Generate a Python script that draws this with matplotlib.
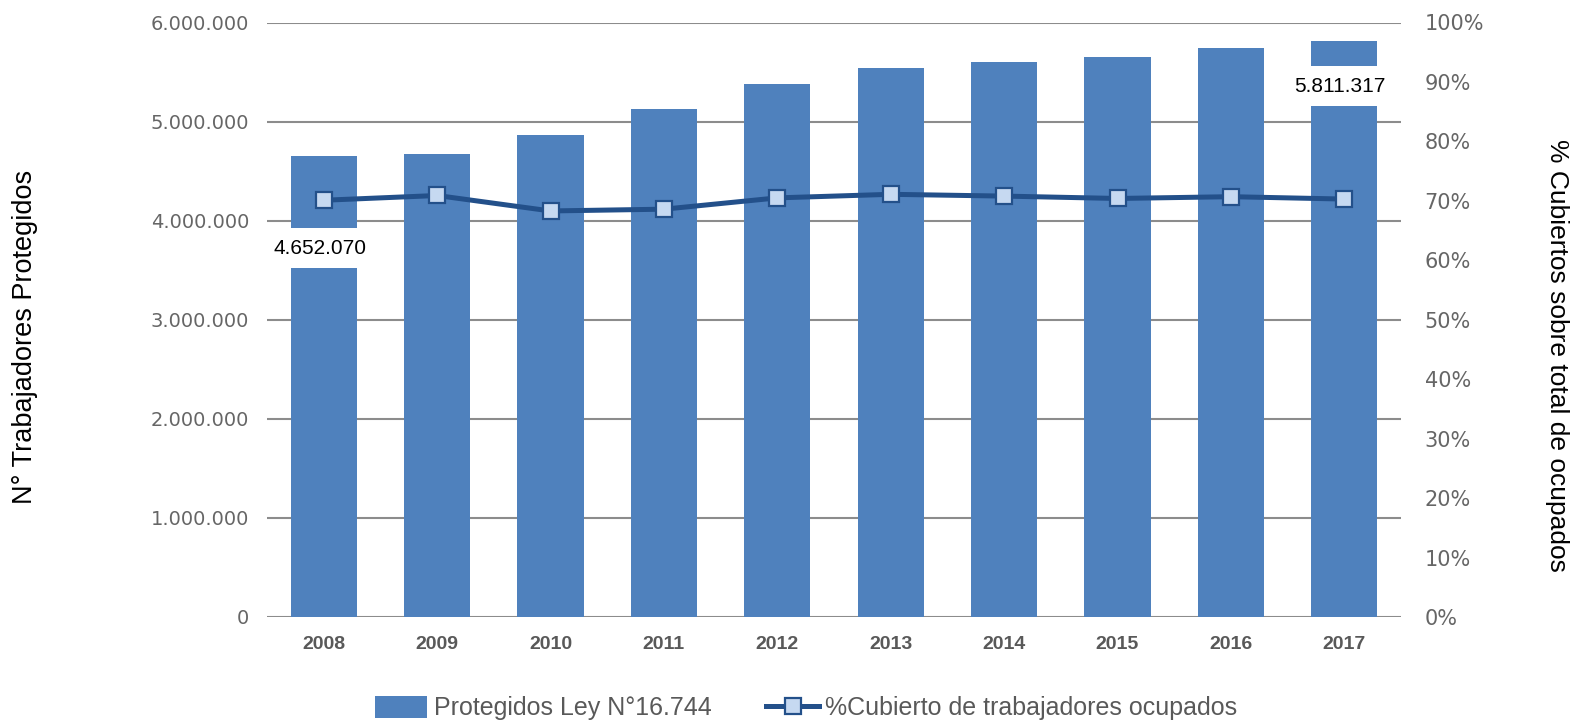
import matplotlib
matplotlib.use("Agg")
import matplotlib.pyplot as plt
from matplotlib import font_manager
from matplotlib.ticker import FuncFormatter, MultipleLocator
from matplotlib.lines import Line2D
from matplotlib.patches import Patch

years = ["2008", "2009", "2010", "2011", "2012", "2013", "2014", "2015", "2016", "2017"]
protegidos = [4652070, 4675000, 4861000, 5126000, 5381000, 5537000, 5597000, 5651000, 5739000, 5811317]
pct_cubierto = [70.1, 70.9, 68.3, 68.6, 70.5, 71.1, 70.8, 70.4, 70.7, 70.3]
labeled = {0: -92, 9: -45}  # index -> label offset (px) below bar top

names = {f.name for f in font_manager.fontManager.ttflist}
cond = "Liberation Sans Narrow" if "Liberation Sans Narrow" in names else "Liberation Sans"
COND = [cond, "DejaVu Sans"]
WIDE = ["DejaVu Sans"]

BAR = "#4F81BD"
LINE = "#23508A"
MFACE = "#C6D9F1"
GREY = "#595959"
TICKGREY = "#666666"

fig = plt.figure(figsize=(15.8, 7.22), dpi=100)
ax = fig.add_axes([267/1580, 1-617/722, (1401-267)/1580, (617-22.5)/722])
ax2 = ax.twinx()

x = list(range(len(years)))
ax.bar(x, protegidos, width=0.585, color=BAR, zorder=2)
ax.set_xlim(-0.5, len(years)-0.5)
ax.set_ylim(0, 6000000)
ax.yaxis.set_major_locator(MultipleLocator(1000000))
ax.yaxis.set_major_formatter(FuncFormatter(lambda v, p: f"{int(v):,}".replace(",", ".")))
ax.grid(axis="y", color="#8C8C8C", linewidth=1.5, zorder=0)
ax.set_axisbelow(True)
for s in ax.spines.values():
    s.set_visible(False)
for s in ax2.spines.values():
    s.set_visible(False)
ax.tick_params(axis="both", length=0)
ax.tick_params(axis="y", pad=13, labelcolor=TICKGREY)
ax.set_xticks(x)
ax.set_xticklabels(years)
for t in ax.get_yticklabels():
    t.set_fontfamily(WIDE); t.set_fontsize(14)
for t in ax.get_xticklabels():
    t.set_fontfamily(COND); t.set_fontsize(14); t.set_fontweight("bold"); t.set_color(GREY)
ax.tick_params(axis="x", pad=14)

ax2.plot(x, pct_cubierto, color=LINE, linewidth=3.6, marker="s", markersize=12,
         markerfacecolor=MFACE, markeredgecolor=LINE, markeredgewidth=1.6, zorder=5)
ax2.set_ylim(0, 100)
ax2.yaxis.set_major_locator(MultipleLocator(10))
ax2.yaxis.set_major_formatter(FuncFormatter(lambda v, p: f"{int(round(v))}%"))
ax2.tick_params(axis="y", length=0, pad=17, labelcolor=TICKGREY)
for t in ax2.get_yticklabels():
    t.set_fontfamily(WIDE); t.set_fontsize(15)

for i, off in labeled.items():
    ax.annotate(f"{protegidos[i]:,}".replace(",", "."), xy=(i, protegidos[i]),
                xytext=(-4, off), textcoords="offset pixels", ha="center", va="center",
                fontsize=15, family=COND, color="black", zorder=10,
                bbox=dict(boxstyle="square,pad=0.5", fc="white", ec="none"))

fig.text(25/1580, 1-337/722, "N° Trabajadores Protegidos", rotation=90, ha="center", va="center",
         fontsize=19.5, family=COND, color="black")
fig.text(1557/1580, 1-355/722, "% Cubiertos sobre total de ocupados", rotation=-90, ha="center", va="center",
         fontsize=19, family=COND, color="black")

handles = [Patch(facecolor=BAR, edgecolor="none"),
           Line2D([0], [0], color=LINE, linewidth=3.6, marker="s", markersize=12,
                  markerfacecolor=MFACE, markeredgecolor=LINE, markeredgewidth=1.6)]
leg = fig.legend(handles, ["Protegidos Ley N°16.744", "%Cubierto de trabajadores ocupados"],
                 loc="center", bbox_to_anchor=(806/1580, 1-708/722), ncol=2, frameon=False,
                 prop={"family": COND, "size": 18}, labelcolor=GREY, handlelength=2.1,
                 handletextpad=0.25, columnspacing=2.2, handleheight=1.0)

fig.savefig("out.png", dpi=100)
